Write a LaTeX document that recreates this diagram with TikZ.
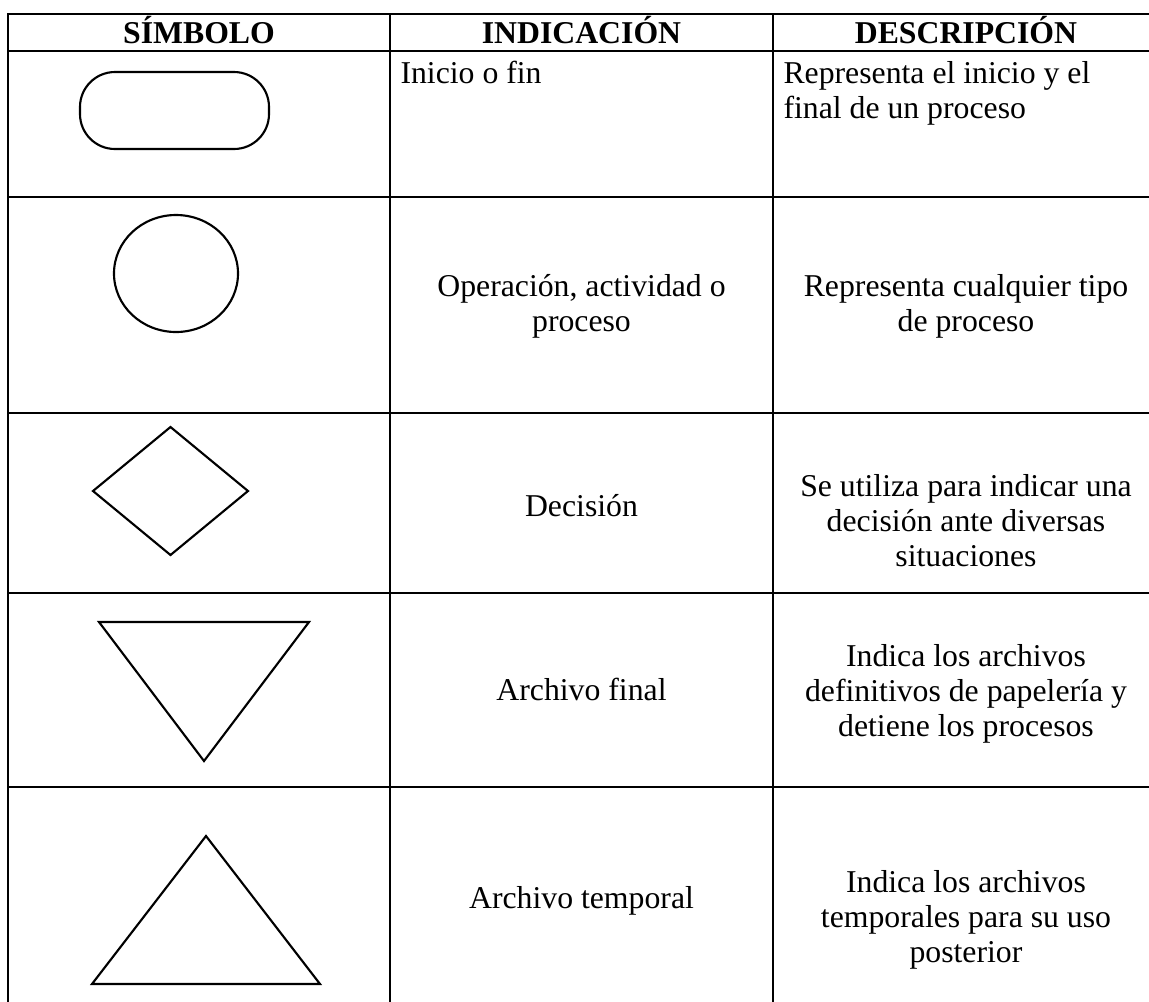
\documentclass[tikz,border=0pt]{standalone}
\usepackage{fontspec}
\setmainfont{Liberation Serif}

\begin{document}
\begin{tikzpicture}[x=0.4pt,y=-0.4pt,
  tabline/.style={line width=1.1pt, line cap=rect},
  symbol/.style={line width=0.85pt, line join=miter},
  head/.style={font=\fontsize{12.7}{14}\selectfont\bfseries, anchor=base, inner sep=0pt},
  cell/.style={font=\fontsize{12.7}{14}\selectfont, align=center, anchor=base, inner sep=0pt}]
\useasboundingbox (0,0) rectangle (1149,1002);
% table
\foreach \y in {14,51,197,413,593,787}
  \draw[tabline] (8,\y) -- (1160,\y);
\foreach \x in {8,390,773}
  \draw[tabline] (\x,14) -- (\x,1010);

\node[head] (h1) at (199,43) {SÍMBOLO};
\node[head] (h2) at (581.5,43) {INDICACIÓN};
\node[head] (h3) at (966,43) {DESCRIPCIÓN};

% multi-line cells sit on the baseline of their last line
\node[cell, anchor=base west, align=left] (i1) at (400,83) {Inicio o fin};
\node[cell, anchor=base west, align=left] (d1) at (783,118) {Representa el inicio y el\\final de un proceso};
\node[cell] (i2) at (581.5,331) {Operación, actividad o\\proceso};
\node[cell] (d2) at (966,331) {Representa cualquier tipo\\de proceso};
\node[cell] (i3) at (581.5,516) {Decisión};
\node[cell] (d3) at (966,566) {Se utiliza para indicar una\\decisión ante diversas\\situaciones};
\node[cell] (i4) at (581.5,700) {Archivo final};
\node[cell] (d4) at (966,736) {Indica los archivos\\definitivos de papelería y\\detiene los procesos};
\node[cell] (i5) at (581.5,908) {Archivo temporal};
\node[cell] (d5) at (966,962) {Indica los archivos\\temporales para su uso\\posterior};

% symbols
\draw[symbol, rounded corners=14pt] (80,72) rectangle (269,149);
\draw[symbol] (176,273.5) ellipse [x radius=62, y radius=58.5];
\draw[symbol] (93,491) -- (170.5,427) -- (248,491) -- (170.5,555) -- cycle;
\draw[symbol] (99,622) -- (309,622) -- (204,761) -- cycle;
\draw[symbol] (206,836) -- (320,984) -- (92,984) -- cycle;
\end{tikzpicture}
\end{document}
